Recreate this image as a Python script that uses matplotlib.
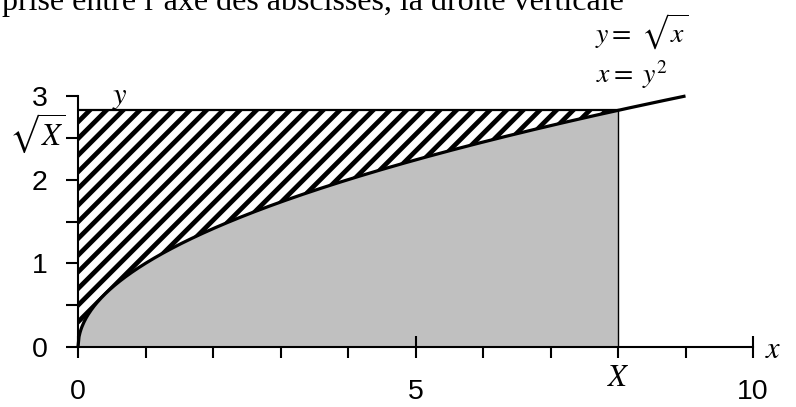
import numpy as np
import matplotlib
matplotlib.use("Agg")
import matplotlib.pyplot as plt
from matplotlib.ticker import FixedLocator

plt.rcParams['mathtext.fontset'] = 'stix'
plt.rcParams['hatch.linewidth'] = 3.4

# values
X_VAL = 8.0            # the bound X
CURVE_END = 9.0        # curve y = sqrt(x) drawn up to here
x_major = [0, 5, 10]
x_major_labels = ["0", "5", "10"]
x_minor = [1, 2, 3, 4, 6, 7, 8, 9]
y_major = [0, 1, 2, 3]
y_major_labels = ["0", "1", "2", "3"]
y_minor = [0.5, 1.5, 2.5]

W, H = 796, 407
fig = plt.figure(figsize=(W / 100, H / 100), dpi=100)
ax = fig.add_axes([78 / W, (H - 347) / H, 675 / W, 251 / H])
ax.set_xlim(0, 10)
ax.set_ylim(0, 3)

# grey region under curve up to X
xs = np.linspace(0, X_VAL, 400)
ax.fill_between(xs, 0, np.sqrt(xs), color='#c0c0c0', linewidth=0, zorder=1)

# hatched region between curve and y = sqrt(X)
ys = np.linspace(0, np.sqrt(X_VAL), 400)
ax.fill_betweenx(ys, 0, ys ** 2, facecolor='white', edgecolor='black',
                 hatch='//', linewidth=0, zorder=1)

# top border of hatched region and vertical line at X
ax.plot([0, X_VAL], [np.sqrt(X_VAL)] * 2, color='black', lw=1.6, zorder=3)
ax.plot([X_VAL, X_VAL], [0, np.sqrt(X_VAL)], color='black', lw=1.0, zorder=3)

# curve
xc = np.linspace(0, CURVE_END, 600)
ax.plot(xc, np.sqrt(xc), color='black', lw=2.3, zorder=4,
        solid_capstyle='butt', clip_on=False)

# axes styling
for s in ['top', 'right']:
    ax.spines[s].set_visible(False)
for s in ['left', 'bottom']:
    ax.spines[s].set_linewidth(1.5)
    ax.spines[s].set_zorder(5)

ax.set_xticks(x_major)
ax.set_xticklabels(x_major_labels, fontfamily='Liberation Sans', fontsize=20.5)
ax.xaxis.set_minor_locator(FixedLocator(x_minor))
ax.set_yticks(y_major)
ax.set_yticklabels(y_major_labels, fontfamily='Liberation Sans', fontsize=20.5)
ax.yaxis.set_minor_locator(FixedLocator(y_minor))

ax.tick_params(axis='x', which='major', direction='inout', length=16, width=1.5, pad=15)
ax.tick_params(axis='x', which='minor', direction='out', length=8, width=1.5)
ax.tick_params(axis='y', which='major', direction='out', length=9, width=1.5, pad=13)
ax.tick_params(axis='y', which='minor', direction='out', length=9, width=1.5)

serif = ['Liberation Serif', 'DejaVu Serif']

def px(x, y):
    return x / W, 1 - y / H

# axis names
fig.text(*px(120, 97), r'$y$', fontsize=22, ha='center', va='center')
fig.text(*px(773, 350), r'$x$', fontsize=22, ha='center', va='center')
fig.text(*px(618, 378), r'$X$', fontsize=22, ha='center', va='center')
fig.text(*px(37, 133), r'$\sqrt{X}$', fontsize=22, ha='center', va='center')

# function labels
fig.text(*px(595, 43), r'$y = \ \sqrt{x}$', fontsize=20, ha='left', va='baseline')
fig.text(*px(596, 83), r'$x = \ y^2$', fontsize=20, ha='left', va='baseline')

# clipped text at top
fig.text(*px(2, 10), "prise entre l\u2019axe des abscisses, la droite verticale",
         fontsize=23, family=serif, ha='left', va='baseline')

fig.savefig('out.png', dpi=100)
